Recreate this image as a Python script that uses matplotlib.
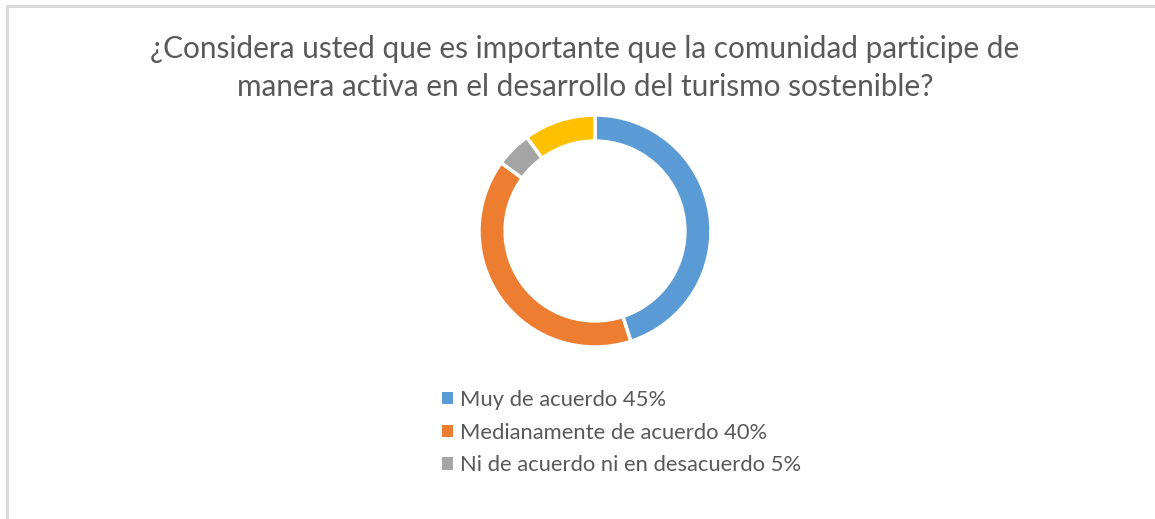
import matplotlib.pyplot as plt
from matplotlib.lines import Line2D
from matplotlib.patches import Patch

# data
labels = ["Muy de acuerdo 45%", "Medianamente de acuerdo 40%",
          "Ni de acuerdo ni en desacuerdo 5%", "En desacuerdo 10%"]
values = [45, 40, 5, 10]
colors = ["#5B9BD5", "#ED7D31", "#A5A5A5", "#FFC000"]
legend_count = 3  # only three entries are visible in the picture

title = ("¿Considera usted que es importante que la comunidad participe de\n"
         "manera activa en el desarrollo del turismo sostenible?")

plt.rcParams['font.family'] = ['Lato', 'DejaVu Sans']

fig = plt.figure(figsize=(11.55, 5.19), dpi=100)

# chart frame (top and left edges visible)
fig.add_artist(Line2D([6.5 / 1155, 6.5 / 1155], [0, 1 - 5.5 / 519],
                      color="#D9D9D9", lw=2, transform=fig.transFigure))
fig.add_artist(Line2D([6.5 / 1155, 1], [1 - 5.5 / 519, 1 - 5.5 / 519],
                      color="#D9D9D9", lw=2, transform=fig.transFigure))

fig.text(585 / 1155, 1 - 68 / 519, title, ha="center", va="center",
         fontsize=21.4, color="#595959", linespacing=1.45)

# donut: center (595, 231), outer radius ~115 px
cx, cy, r = 595, 231, 116
ax = fig.add_axes([(cx - r) / 1155, 1 - (cy + r) / 519, 2 * r / 1155, 2 * r / 519])
ax.pie(values, colors=colors, startangle=90, counterclock=False,
       radius=1.0, wedgeprops=dict(width=0.225, edgecolor="white", linewidth=2.5))
ax.set_aspect("equal")
ax.set_xlim(-1, 1)
ax.set_ylim(-1, 1)
ax.axis("off")

handles = [Patch(facecolor=colors[i], edgecolor="none") for i in range(legend_count)]
leg = fig.legend(handles, labels[:legend_count], loc="upper left",
                 bbox_to_anchor=(442 / 1155, 1 - 390 / 519),
                 frameon=False, fontsize=15.8, labelcolor="#595959",
                 handlelength=0.5, handleheight=0.5, handletextpad=0.3,
                 labelspacing=0.58, borderpad=0, borderaxespad=0)

fig.savefig("out.png", dpi=100, facecolor="white")
